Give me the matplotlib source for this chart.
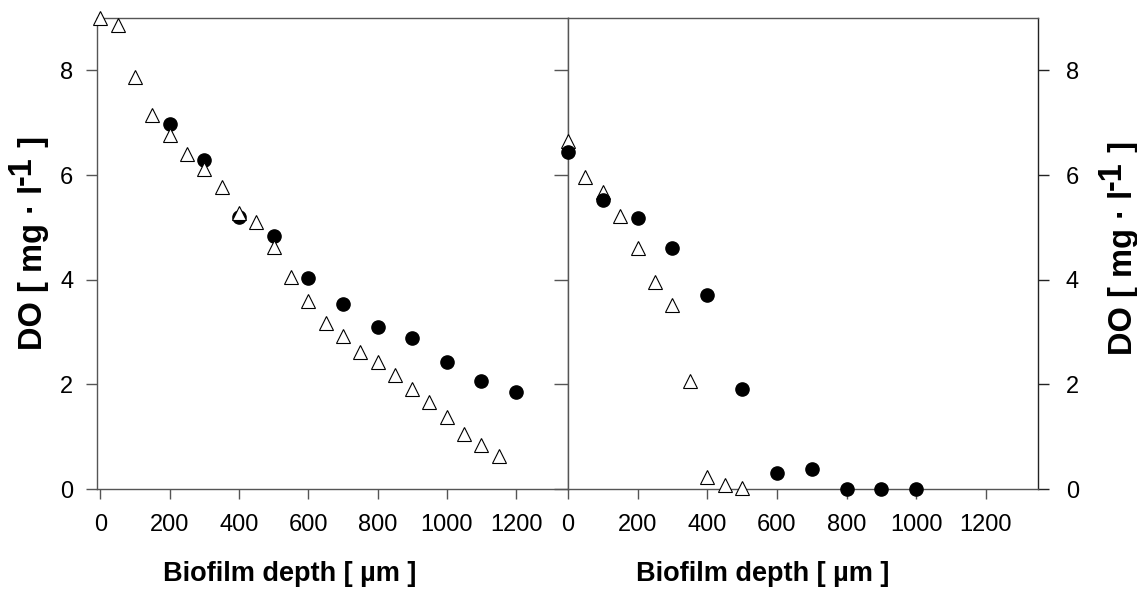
import matplotlib
matplotlib.use("Agg")
import matplotlib.pyplot as plt
from matplotlib.transforms import IdentityTransform

plt.rcParams['font.family'] = ['Liberation Sans', 'DejaVu Sans']

# Left panel data
left_tri_x = [0, 50, 100, 150, 200, 250, 300, 350, 400, 450, 500, 550, 600, 650,
              700, 750, 800, 850, 900, 950, 1000, 1050, 1100, 1150]
left_tri_y = [9.0, 8.87, 7.87, 7.15, 6.77, 6.41, 6.12, 5.77, 5.27, 5.1, 4.63, 4.05,
              3.6, 3.17, 2.92, 2.62, 2.42, 2.17, 1.92, 1.67, 1.37, 1.05, 0.85, 0.63]
left_dot_x = [200, 300, 400, 500, 600, 700, 800, 900, 1000, 1100, 1200]
left_dot_y = [6.98, 6.29, 5.2, 4.83, 4.03, 3.53, 3.09, 2.88, 2.43, 2.07, 1.85]

# Right panel data
right_tri_x = [0, 50, 100, 150, 200, 250, 300, 350, 400, 450, 500]
right_tri_y = [6.65, 5.97, 5.68, 5.22, 4.6, 3.95, 3.52, 2.07, 0.23, 0.08, 0.02]
right_dot_x = [0, 100, 200, 300, 400, 500, 600, 700, 800, 900, 1000]
right_dot_y = [6.43, 5.53, 5.18, 4.6, 3.7, 1.92, 0.3, 0.38, 0.0, 0.0, 0.0]

x_ticks = [0, 200, 400, 600, 800, 1000, 1200]
y_ticks = [0, 2, 4, 6, 8]

xlabel = "Biofilm depth [ µm ]"
ylabel_parts = ["DO [ mg · l", "-1", " ]"]

W, H = 1137, 590
fig = plt.figure(figsize=(W / 100, H / 100), dpi=100)
axL = fig.add_axes([97/W, 1-489/H, (568-97)/W, (489-18)/H])
axR = fig.add_axes([568/W, 1-489/H, (1038-568)/W, (489-18)/H])

spine_col = '#555555'
tick_fs = 17
xlab_fs = 19.5
ylab_fs = 23.5

ms_dot = 9.5
ms_tri = 10

# left panel: circles below triangles
axL.plot(left_dot_x, left_dot_y, 'o', color='black', ms=ms_dot, clip_on=False, zorder=3)
axL.plot(left_tri_x, left_tri_y, '^', mfc='white', mec='black', mew=0.8, ms=ms_tri,
         clip_on=False, zorder=4)
# right panel: triangles below circles
axR.plot(right_tri_x, right_tri_y, '^', mfc='white', mec='black', mew=0.8, ms=ms_tri,
         clip_on=False, zorder=3)
axR.plot(right_dot_x, right_dot_y, 'o', color='black', ms=ms_dot, clip_on=False, zorder=4)

axL.set_xlim(-10, 1350)
axR.set_xlim(0, 1350)
for ax in (axL, axR):
    ax.set_ylim(0, 9)
    ax.set_xticks(x_ticks)
    ax.set_yticks(y_ticks)
    for s in ax.spines.values():
        s.set_color(spine_col)
        s.set_linewidth(1.0)
    ax.tick_params(axis='x', direction='out', length=7, width=1, color=spine_col,
                   labelsize=tick_fs, pad=11)
    ax.set_xlabel(xlabel, fontsize=xlab_fs, fontweight='bold')

axL.xaxis.set_label_coords(0.41, -0.152)
axR.xaxis.set_label_coords(0.415, -0.152)

axL.tick_params(axis='y', which='both', left=True, right=True, labelleft=True,
                labelright=False, direction='out', length=8, width=1, color=spine_col,
                labelsize=tick_fs, pad=9)
for t in axL.yaxis.get_major_ticks():
    t.tick2line.set_marker(matplotlib.lines.TICKLEFT)
    t.tick2line.set_markersize(10)

axR.spines['right'].set_color('#222222')
axR.tick_params(axis='y', left=False, right=True, labelleft=False, labelright=True,
                direction='out', length=8, width=1, color='#222222',
                labelsize=tick_fs, pad=12)

# y labels composed of pieces so the superscript keeps full size
renderer = fig.canvas.get_renderer()


def vertical_label(x_base, y_bottom, raise_px):
    y = y_bottom
    for i, s in enumerate(ylabel_parts):
        dx = raise_px if i == 1 else 0
        t = fig.text(x_base - dx, y, s, fontsize=ylab_fs, fontweight='bold',
                     rotation=90, rotation_mode='anchor', ha='left', va='baseline',
                     transform=IdentityTransform())
        ext = t.get_window_extent(renderer)
        y += ext.height


vertical_label(42, H - 350, 11)
vertical_label(1132, H - 355, 11)

fig.savefig('out.png', dpi=100)
